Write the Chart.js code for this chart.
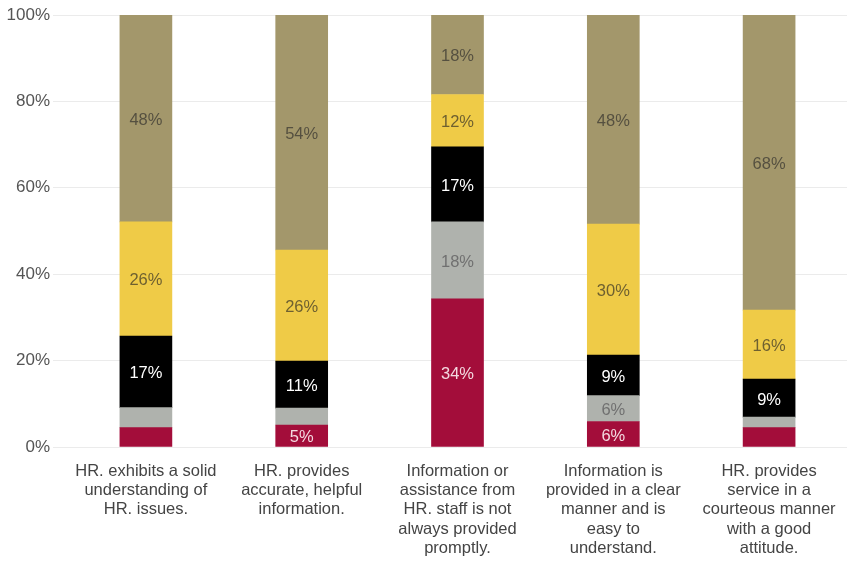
<!DOCTYPE html>
<html>
<head>
<meta charset="utf-8">
<script src="https://cdn.jsdelivr.net/npm/chart.js@4/dist/chart.umd.min.js"></script>
<style>
  html, body { margin: 0; padding: 0; background: #fff; }
  #wrap { width: 856px; height: 561px; }
</style>
</head>
<body>
<div id="wrap"><canvas id="hrChart"></canvas></div>
<script>
// Survey statements (x axis), wrapped onto several lines
const categories = [
  ["HR. exhibits a solid", "understanding of", "HR. issues."],
  ["HR. provides", "accurate, helpful", "information."],
  ["Information or", "assistance from", "HR. staff is not", "always provided", "promptly."],
  ["Information is", "provided in a clear", "manner and is", "easy to", "understand."],
  ["HR. provides", "service in a", "courteous manner", "with a good", "attitude."]
];

// Share of responses per answer band, bottom to top (percent)
const band1 = [4.5, 5.1, 34.3, 5.9, 4.5];
const band2 = [4.6, 3.9, 17.8, 6.0, 2.4];
const band3 = [16.6, 10.9, 17.4, 9.4, 8.8];
const band4 = [26.4, 25.7, 12.1, 30.3, 16.0];
const band5 = [47.9, 54.4, 18.4, 48.4, 68.3];

const yTicks = [0, 20, 40, 60, 80, 100];

const bandColors = ["#a30d3a", "#afb2ad", "#000000", "#efcb47", "#a3976b"];
const labelColors = ["#f4d9e0", "#707070", "#ffffff", "#6e6030", "#555040"];

// Writes the rounded percentage inside each segment big enough to hold it
const segmentLabels = {
  id: "segmentLabels",
  afterDatasetsDraw(chart) {
    const ctx = chart.ctx;
    ctx.save();
    ctx.font = "16.5px 'Liberation Sans', Arial, sans-serif";
    ctx.textAlign = "center";
    ctx.textBaseline = "middle";
    chart.data.datasets.forEach((ds, i) => {
      const meta = chart.getDatasetMeta(i);
      meta.data.forEach((bar, j) => {
        const v = ds.data[j];
        if (v < 5) return;
        const p = bar.getProps(["x", "y", "base"], true);
        ctx.fillStyle = labelColors[i];
        ctx.fillText(Math.round(v) + "%", p.x, (p.y + p.base) / 2 + 2);
      });
    });
    ctx.restore();
  }
};

const ctx = document.getElementById("hrChart").getContext("2d");
new Chart(ctx, {
  type: "bar",
  data: {
    labels: categories,
    datasets: [band1, band2, band3, band4, band5].map((d, i) => ({
      data: d,
      backgroundColor: bandColors[i],
      borderWidth: 0,
      barThickness: 52
    }))
  },
  options: {
    responsive: true,
    maintainAspectRatio: false,
    animation: false,
    layout: { padding: { top: 15, right: 9, left: 0, bottom: 0 } },
    plugins: {
      legend: { display: false },
      tooltip: { enabled: false }
    },
    scales: {
      x: {
        stacked: true,
        grid: { display: false, drawTicks: false },
        border: { display: false },
        ticks: {
          maxRotation: 0,
          autoSkip: false,
          padding: 15,
          color: "#444",
          font: { family: "'Liberation Sans', Arial, sans-serif", size: 16.5, lineHeight: 1.16 }
        },
        afterFit(scale) { scale.height = 114; }
      },
      y: {
        stacked: true,
        min: 0,
        max: 100,
        afterBuildTicks(scale) { scale.ticks = yTicks.map(v => ({ value: v })); },
        grid: { color: "#ebebeb", tickLength: 15, lineWidth: 1 },
        border: { display: false },
        ticks: {
          padding: 3,
          color: "#555",
          font: { family: "'Liberation Sans', Arial, sans-serif", size: 17 },
          callback: v => v + "%"
        },
        afterFit(scale) { scale.width = 68; }
      }
    }
  },
  plugins: [segmentLabels]
});
</script>
</body>
</html>
